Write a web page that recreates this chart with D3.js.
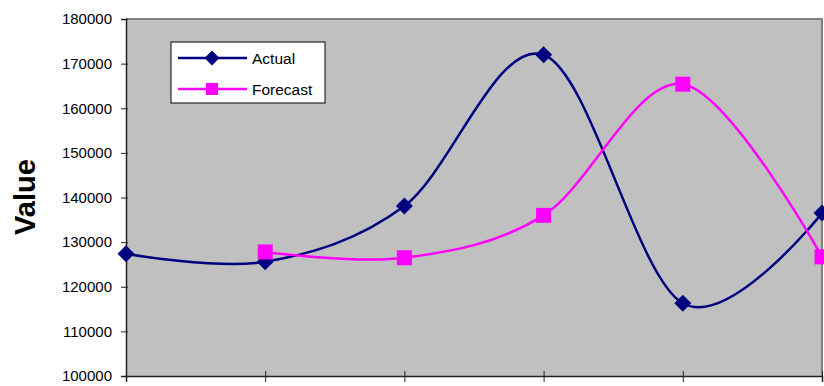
<!DOCTYPE html>
<html><head><meta charset="utf-8">
<script src="https://cdn.jsdelivr.net/npm/d3@7"></script>
<style>body{margin:0;background:#fff}svg{display:block}text{font-family:"Liberation Sans",Arial,sans-serif}</style>
</head><body>
<svg id="c" width="824" height="386"></svg>
<script>
const categories = [0, 1, 2, 3, 4, 5];
const actual = [127400, 125600, 138100, 172000, 116300, 136500];
const forecastCats = [1, 2, 3, 4, 5];
const forecast = [127800, 126500, 136000, 165400, 126700];
const yTicks = [100000, 110000, 120000, 130000, 140000, 150000, 160000, 170000, 180000];
const seriesNames = ["Actual", "Forecast"];

const svg = d3.select("#c");
const L = 126, R = 822, T = 19, B = 376;
const x = d3.scaleLinear().domain([0, 5]).range([L, R]);
const y = d3.scaleLinear().domain([100000, 180000]).range([B, T]);

svg.append("rect").attr("x", L).attr("y", T).attr("width", R - L).attr("height", B - T).attr("fill", "#c0c0c0");
svg.append("path").attr("d", `M${L},${T}H${R}V${B}`).attr("fill", "none").attr("stroke", "#808080").attr("stroke-width", 2);

// y axis
const ya = svg.append("g").attr("transform", `translate(${L},0)`)
  .call(d3.axisLeft(y).tickValues(yTicks).tickSize(5).tickPadding(9).tickFormat(d3.format("d")));
ya.select(".domain").attr("stroke", "#222").attr("stroke-width", 1.5);
ya.selectAll(".tick line").attr("stroke", "#222").attr("x2", -5).attr("x1", 2);
ya.selectAll("text").attr("font-size", 15).attr("fill", "#000").attr("font-family", '"Liberation Sans",Arial,sans-serif');

// x axis
const xa = svg.append("g").attr("transform", `translate(0,${B})`)
  .call(d3.axisBottom(x).tickValues(categories).tickSize(6).tickFormat(""));
xa.select(".domain").attr("stroke", "#222").attr("stroke-width", 1.5);
xa.selectAll(".tick line").attr("stroke", "#222").attr("y1", -5).attr("y2", 6);

svg.append("text").attr("transform", `translate(35,197) rotate(-90)`).attr("text-anchor", "middle")
  .attr("font-size", 29).attr("font-weight", "bold").text("Value");

const line = d3.line().curve(d3.curveCardinal.tension(0)).x(d => x(d[0])).y(d => y(d[1]));
const aData = categories.map((c, i) => [c, actual[i]]);
const fData = forecastCats.map((c, i) => [c, forecast[i]]);

const clip = svg.append("clipPath").attr("id", "cp").append("rect").attr("x", L - 10).attr("y", T).attr("width", R - L + 12).attr("height", B - T);

svg.append("path").datum(aData).attr("d", line).attr("fill", "none").attr("stroke", "#000080").attr("stroke-width", 2.5);
svg.append("path").datum(fData).attr("d", line).attr("fill", "none").attr("stroke", "#ff00ff").attr("stroke-width", 2.5);

const diamond = (cx, cy, r) => `M${cx},${cy - r}L${cx + r},${cy}L${cx},${cy + r}L${cx - r},${cy}Z`;
svg.append("g").attr("clip-path", "url(#cp)").selectAll("path").data(aData).join("path")
  .attr("d", d => diamond(x(d[0]), y(d[1]), 8.5)).attr("fill", "#000080");
svg.append("g").attr("clip-path", "url(#cp)").selectAll("rect").data(fData).join("rect")
  .attr("x", d => x(d[0]) - 7.5).attr("y", d => y(d[1]) - 7.5).attr("width", 15).attr("height", 15).attr("fill", "#ff00ff");

// legend
const lg = svg.append("g");
lg.append("rect").attr("x", 171).attr("y", 42).attr("width", 154).attr("height", 61).attr("fill", "#fff").attr("stroke", "#000").attr("stroke-width", 1);
const ly = [58, 89];
const cols = ["#000080", "#ff00ff"];
seriesNames.forEach((n, i) => {
  lg.append("line").attr("x1", 178).attr("x2", 247).attr("y1", ly[i]).attr("y2", ly[i]).attr("stroke", cols[i]).attr("stroke-width", 2.5);
  if (i === 0) lg.append("path").attr("d", diamond(212, ly[i], 7.5)).attr("fill", cols[i]);
  else lg.append("rect").attr("x", 206).attr("y", ly[i] - 6).attr("width", 12).attr("height", 12).attr("fill", cols[i]);
  lg.append("text").attr("x", 252).attr("y", ly[i] + 6).attr("font-size", 15.5).text(n);
});
</script>
</body></html>
